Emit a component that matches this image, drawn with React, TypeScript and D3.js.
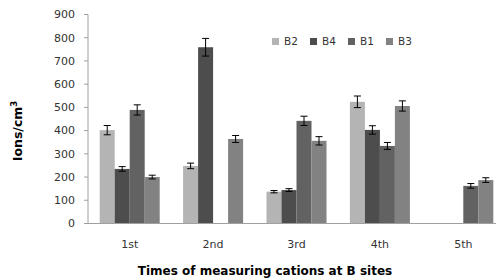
import React from "react";
import * as d3 from "d3";

const categories = ["1st", "2nd", "3rd", "4th", "5th"];
const seriesNames = ["B2", "B4", "B1", "B3"];
const seriesColors = ["#b4b4b4", "#4d4d4d", "#626262", "#828282"];

// null = no bar
const b2 = [402, 248, 137, 524, null];
const b4 = [235, 759, 144, 403, null];
const b1 = [489, null, 442, 334, 162];
const b3 = [200, 364, 356, 506, 187];

const b2Err = [20, 12, 5, 25, 0];
const b4Err = [10, 38, 6, 18, 0];
const b1Err = [22, 0, 20, 15, 10];
const b3Err = [8, 15, 18, 22, 10];

const yTicks = [0, 100, 200, 300, 400, 500, 600, 700, 800, 900];

const App = (): JSX.Element => {
    const width = 496;
    const height = 280;
    const margin = { top: 14.5, right: -9, bottom: 56.5, left: 88 };

    const values = [b2, b4, b1, b3];
    const errs = [b2Err, b4Err, b1Err, b3Err];

    const x = d3
        .scaleBand()
        .domain(categories)
        .range([margin.left, width - margin.right])
        .paddingInner(0)
        .paddingOuter(0);
    const inner = d3
        .scaleBand()
        .domain(seriesNames)
        .range([0, x.bandwidth()])
        .paddingOuter(0.78);
    const y = d3
        .scaleLinear()
        .domain([0, 900])
        .range([height - margin.bottom, margin.top]);

    const font = "'DejaVu Sans', Verdana, sans-serif";

    return (
        <svg width={width} height={height} style={{ position: "absolute", left: 0, top: 0 }}>
            <rect width={width} height={height} fill="#fff" />
            {/* y axis */}
            <line x1={margin.left} x2={margin.left} y1={y(900)} y2={y(0)} stroke="#a0a0a0" />
            {yTicks.map((t) => (
                <g key={t}>
                    <line x1={margin.left - 4} x2={margin.left} y1={y(t)} y2={y(t)} stroke="#a0a0a0" />
                    <text
                        x={75}
                        y={y(t)}
                        dy="0.35em"
                        textAnchor="end"
                        fontFamily={font}
                        fontSize={11}
                        fill="#333"
                    >
                        {t}
                    </text>
                </g>
            ))}
            {/* bars */}
            {categories.map((c, ci) => (
                <g key={c} transform={`translate(${x(c)},0)`}>
                    {seriesNames.map((s, si) => {
                        const v = values[si][ci];
                        if (v == null) return null;
                        const bx = inner(s) as number;
                        const bw = inner.bandwidth();
                        const e = errs[si][ci];
                        const cx = bx + bw / 2;
                        return (
                            <g key={s}>
                                <rect x={bx} y={y(v)} width={bw} height={y(0) - y(v)} fill={seriesColors[si]} />
                                {e > 0 && (
                                    <g stroke="#000" strokeWidth={1}>
                                        <line x1={cx} x2={cx} y1={y(v + e)} y2={y(v - e)} />
                                        <line x1={cx - 3.5} x2={cx + 3.5} y1={y(v + e)} y2={y(v + e)} />
                                        <line x1={cx - 3.5} x2={cx + 3.5} y1={y(v - e)} y2={y(v - e)} />
                                    </g>
                                )}
                            </g>
                        );
                    })}
                </g>
            ))}
            {/* x axis */}
            <line x1={margin.left} x2={width} y1={y(0)} y2={y(0)} stroke="#a0a0a0" />
            {categories.map((c) => (
                <text
                    key={c}
                    x={(x(c) as number) + x.bandwidth() / 2}
                    y={y(0) + 21}
                    dy="0.35em"
                    textAnchor="middle"
                    fontFamily={font}
                    fontSize={11}
                    fill="#333"
                >
                    {c}
                </text>
            ))}
            {/* legend */}
            {seriesNames.map((s, i) => {
                const lx = [272, 310, 348, 386][i];
                return (
                    <g key={s}>
                        <rect x={lx} y={38} width={7} height={7} fill={seriesColors[i]} />
                        <text x={lx + 12} y={41.5} dy="0.35em" fontFamily={font} fontSize={10.5} fill="#333">
                            {s}
                        </text>
                    </g>
                );
            })}
            {/* titles */}
            <text
                x={265}
                y={271}
                dy="0.35em"
                textAnchor="middle"
                fontFamily={font}
                fontWeight="bold"
                fontSize={12}
                fill="#000"
            >
                Times of measuring cations at B sites
            </text>
            <text
                transform={`translate(22,131) rotate(-90)`}
                textAnchor="middle"
                fontFamily={font}
                fontWeight="bold"
                fontSize={12.5}
                fill="#000"
            >
                Ions/cm
                <tspan dy={-5} fontSize={8.5}>
                    3
                </tspan>
            </text>
        </svg>
    );
};

export default App;
